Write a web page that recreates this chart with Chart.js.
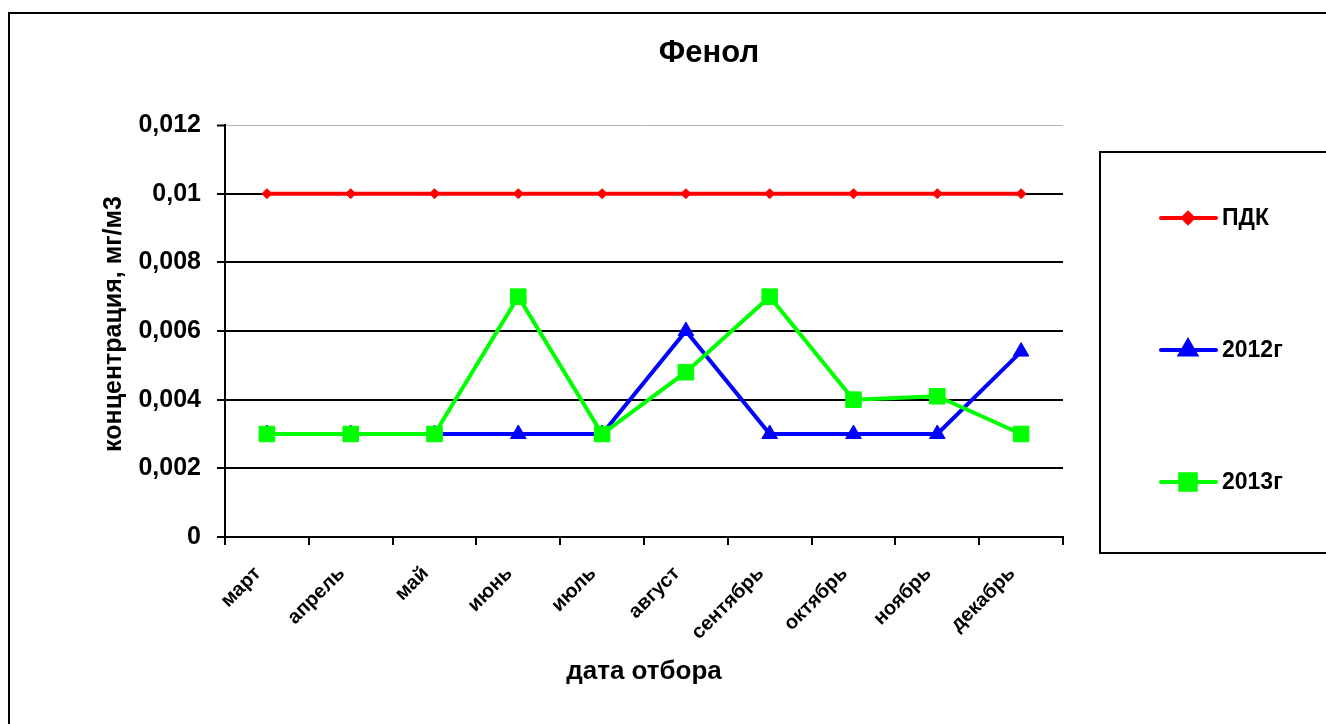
<!DOCTYPE html>
<html>
<head>
<meta charset="utf-8">
<script src="https://cdn.jsdelivr.net/npm/chart.js@4/dist/chart.umd.min.js"></script>
<style>
  html, body { margin: 0; padding: 0; background: #fff; }
  #wrap { width: 1326px; height: 724px; position: relative; }
</style>
</head>
<body>
<div id="wrap"><canvas id="chart"></canvas></div>
<script>
// --- data ---
const months = ['март', 'апрель', 'май', 'июнь', 'июль', 'август', 'сентябрь', 'октябрь', 'ноябрь', 'декабрь'];
const pdk    = [0.01, 0.01, 0.01, 0.01, 0.01, 0.01, 0.01, 0.01, 0.01, 0.01];
const y2012  = [0.003, 0.003, 0.003, 0.003, 0.003, 0.006, 0.003, 0.003, 0.003, 0.0054];
const y2013  = [0.003, 0.003, 0.003, 0.007, 0.003, 0.0048, 0.007, 0.004, 0.0041, 0.003];
const seriesNames = ['ПДК', '2012г', '2013г'];

const FONT = '"Liberation Sans", Arial, sans-serif';

// frame, title, axis titles and the boxed legend on the right
const decor = {
    id: 'decor',
    beforeDraw(chart) {
        const ctx = chart.ctx;
        ctx.save();
        ctx.fillStyle = '#fff';
        ctx.fillRect(0, 0, chart.width, chart.height);
        ctx.strokeStyle = '#000';
        ctx.lineWidth = 2;
        ctx.strokeRect(9, 13, 1400, 800);
        ctx.restore();
    },
    afterDraw(chart) {
        const ctx = chart.ctx;
        ctx.save();
        ctx.fillStyle = '#000';
        ctx.textAlign = 'center';
        ctx.textBaseline = 'middle';

        ctx.font = 'bold 31px ' + FONT;
        ctx.fillText('Фенол', 709, 53);

        ctx.font = 'bold 26px ' + FONT;
        ctx.fillText('дата отбора', 644, 672);

        ctx.save();
        ctx.translate(114, 324);
        ctx.rotate(-Math.PI / 2);
        ctx.font = 'bold 25px ' + FONT;
        ctx.fillText('концентрация, мг/м3', 0, 0);
        ctx.restore();

        // legend box
        ctx.lineWidth = 2;
        ctx.strokeStyle = '#000';
        ctx.strokeRect(1100, 152, 400, 401);

        const rows = [218, 350, 482];
        chart.data.datasets.forEach((ds, i) => {
            const y = rows[i];
            ctx.strokeStyle = ds.borderColor;
            ctx.lineWidth = 4;
            ctx.lineCap = 'round';
            ctx.beginPath();
            ctx.moveTo(1161, y);
            ctx.lineTo(1216, y);
            ctx.stroke();
            ctx.fillStyle = ds.pointBackgroundColor;
            ctx.strokeStyle = ds.borderColor;
            Chart.helpers.drawPoint(ctx, {
                pointStyle: ds.pointStyle,
                radius: ds.pointRadius,
                rotation: 0,
                borderWidth: 1
            }, 1188, y);
            ctx.fillStyle = '#000';
            ctx.textAlign = 'left';
            ctx.font = 'bold 23px ' + FONT;
            ctx.fillText(ds.label, 1222, y + 1);
        });
        ctx.restore();
    }
};

new Chart(document.getElementById('chart'), {
    type: 'line',
    data: {
        labels: months,
        datasets: [
            {
                label: seriesNames[0], data: pdk, order: 2,
                borderColor: '#ff0000', pointBackgroundColor: '#ff0000', pointBorderColor: '#ff0000',
                borderWidth: 4, pointStyle: 'rectRot', pointRadius: 5, pointBorderWidth: 1
            },
            {
                label: seriesNames[1], data: y2012, order: 1,
                borderColor: '#0000ff', pointBackgroundColor: '#0000ff', pointBorderColor: '#0000ff',
                borderWidth: 4, pointStyle: 'triangle', pointRadius: 9, pointBorderWidth: 1
            },
            {
                label: seriesNames[2], data: y2013, order: 0,
                borderColor: '#00ff00', pointBackgroundColor: '#00ff00', pointBorderColor: '#00ff00',
                borderWidth: 4, pointStyle: 'rect', pointRadius: 11, pointBorderWidth: 1
            }
        ]
    },
    options: {
        responsive: true,
        maintainAspectRatio: false,
        animation: false,
        events: [],
        layout: { padding: { left: 0, top: 125, right: 263, bottom: 0 } },
        plugins: {
            legend: { display: false },
            title: { display: false },
            tooltip: { enabled: false }
        },
        scales: {
            x: {
                offset: true,
                grid: { offset: true, drawOnChartArea: false, drawTicks: true, tickLength: 8, color: '#000', lineWidth: 2 },
                border: { color: '#000', width: 2 },
                ticks: {
                    color: '#000', font: { family: FONT, size: 20, weight: 'bold' },
                    maxRotation: 45, minRotation: 45, padding: 17, labelOffset: -9, autoSkip: false
                },
                afterFit: s => { s.height = 187; }
            },
            y: {
                min: 0, max: 0.012,
                grid: {
                    color: c => (c.tick && c.tick.value >= 0.012 ? '#b4b4b4' : '#000'),
                    lineWidth: c => (c.tick && c.tick.value >= 0.012 ? 1 : 2),
                    tickColor: '#000', tickLength: 8, tickWidth: 2
                },
                border: { color: '#000', width: 2 },
                ticks: {
                    stepSize: 0.002, color: '#000', padding: 16,
                    font: { family: FONT, size: 25, weight: 'bold' },
                    callback: v => String(Number(v.toFixed(3))).replace('.', ',')
                },
                afterFit: s => { s.width = 225; }
            }
        }
    },
    plugins: [decor]
});
</script>
</body>
</html>
